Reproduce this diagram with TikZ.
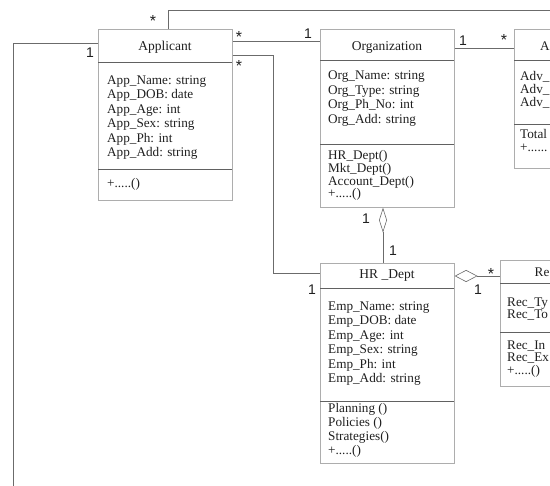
\documentclass[tikz,border=0pt]{standalone}
\usepackage{fontspec}
\setmainfont{Liberation Serif}
\newfontfamily\multfont{Liberation Sans}
\usetikzlibrary{arrows.meta}

\definecolor{boxline}{gray}{0.68}
\definecolor{sepline}{gray}{0.38}
\definecolor{wire}{gray}{0.42}
\definecolor{ink}{gray}{0.12}

\tikzset{
  cls/.style={draw=boxline, line width=0.6pt, anchor=north west, inner sep=0pt},
  sep/.style={draw=sepline, line width=0.7pt},
  conn/.style={draw=wire, line width=0.6pt},
  title/.style={anchor=base, inner sep=0pt, text=ink, font=\fontsize{13.5}{14}\selectfont},
  row/.style={anchor=base west, inner sep=0pt, text=ink, font=\fontsize{13.2}{14}\selectfont},
  mult/.style={inner sep=0pt, text=ink, font=\multfont\fontsize{14}{14}\selectfont},
  star/.style={inner sep=0pt, text=ink, font=\multfont\fontsize{16}{16}\selectfont},
}

% placeholder method entries (kept out of \foreach lists, where dots mean a range)
\newcommand\moreops{+.....()}
\newcommand\moreopsopen{+......}

% one text line per class member: prefix, x, first baseline, step, members
\newcommand\memberlines[5]{%
  \foreach \t [count=\i] in {#5}
    \node[row] (#1-\i) at ({#2},{#3+#4*(\i-1)}) {\t};}

\begin{document}
\begin{tikzpicture}[x=1pt, y=-1pt]
\useasboundingbox (0,0) rectangle (550,486);
\clip (0,0) rectangle (550,486);

% ---- Applicant ----
\node[cls, minimum width=134, minimum height=171] (app) at (98,29) {};
\draw[sep] (98,62) -- (232,62);
\draw[sep] (98,169) -- (232,169);
\node[title] (app-t) at (165,50.5) {Applicant};
\memberlines{app}{107}{84.5}{14.5}{App\_Name: string, App\_DOB: date, App\_Age: int,
  App\_Sex: string, App\_Ph: int, App\_Add: string}
\node[row] (app-m) at (107,187.5) {\moreops};

% ---- Organization ----
\node[cls, minimum width=134, minimum height=178] (org) at (320,29) {};
\draw[sep] (320,60) -- (454,60);
\draw[sep] (320,144) -- (454,144);
\node[title] (org-t) at (387,50.5) {Organization};
\memberlines{orga}{328}{79.5}{14.6}{Org\_Name: string, Org\_Type: string,
  Org\_Ph\_No: int, Org\_Add: string}
\memberlines{orgm}{328}{159.5}{12.8}{HR\_Dept(), Mkt\_Dept(), Account\_Dept(), \moreops}

% ---- Adv (runs off the right edge) ----
\node[cls, minimum width=134, minimum height=139] (adv) at (514,29) {};
\draw[sep] (514,60) -- (648,60);
\draw[sep] (514,124) -- (648,124);
\node[row] (adv-t) at (540,50.5) {A};
\memberlines{adva}{520}{80.5}{13}{Adv\_, Adv\_, Adv\_}
\memberlines{advm}{520}{138.5}{13}{Total, \moreopsopen}

% ---- HR_Dept ----
\node[cls, minimum width=134, minimum height=200] (hr) at (320,263) {};
\draw[sep] (320,288) -- (454,288);
\draw[sep] (320,401) -- (454,401);
\node[title] (hr-t) at (387,278.5) {HR \_Dept};
\memberlines{hra}{328}{310.5}{14.4}{Emp\_Name: string, Emp\_DOB: date, Emp\_Age: int,
  Emp\_Sex: string, Emp\_Ph: int, Emp\_Add: string}
\memberlines{hrm}{328}{412.5}{14}{Planning (), Policies (), Strategies(), \moreops}

% ---- Rec (runs off the right edge) ----
\node[cls, minimum width=134, minimum height=126] (rec) at (500,260) {};
\draw[sep] (500,283) -- (634,283);
\draw[sep] (500,332) -- (634,332);
\node[row] (rec-t) at (534.5,276.5) {Re};
\memberlines{reca}{507}{306.5}{12.5}{Rec\_Ty, Rec\_To}
\memberlines{recm}{507}{349.5}{12.5}{Rec\_In, Rec\_Ex, \moreops}

% ---- connectors ----
\coordinate (topend) at (552,10);
\coordinate (leftend) at (13,488);
\draw[conn] ([xshift=70]app.north west) |- (topend);
\draw[conn] ([yshift=-14]app.north west) -| (leftend);
\draw[conn] ([yshift=-12]app.north east) -- ([yshift=-12]org.north west);
\draw[conn] ([yshift=-26]app.north east) -- ++(41,0) |- ([yshift=-10]hr.north west);
\draw[conn] ([yshift=-19]org.north east) -- ([yshift=-19]adv.north west);
\draw[conn, {Diamond[open, fill=white, length=25pt, width=8pt]}-]
  ([xshift=63]org.south west) -- ([xshift=63]hr.north west);
\draw[conn, {Diamond[open, fill=white, length=23pt, width=12pt]}-]
  ([yshift=-13]hr.north east) -- ([yshift=-16]rec.north west);

% ---- multiplicities ----
\node[star] (m1) at (153,21) {*};
\node[mult] (m2) at (90,53) {1};
\node[star] (m3) at (239,37) {*};
\node[mult] (m4) at (308,34) {1};
\node[star] (m5) at (239,66) {*};
\node[mult] (m6) at (463,41) {1};
\node[star] (m7) at (504,40) {*};
\node[mult] (m8) at (366,219) {1};
\node[mult] (m9) at (393,251) {1};
\node[mult] (m10) at (312,290) {1};
\node[mult] (m11) at (478,290) {1};
\node[star] (m12) at (491,274) {*};
\end{tikzpicture}
\end{document}
